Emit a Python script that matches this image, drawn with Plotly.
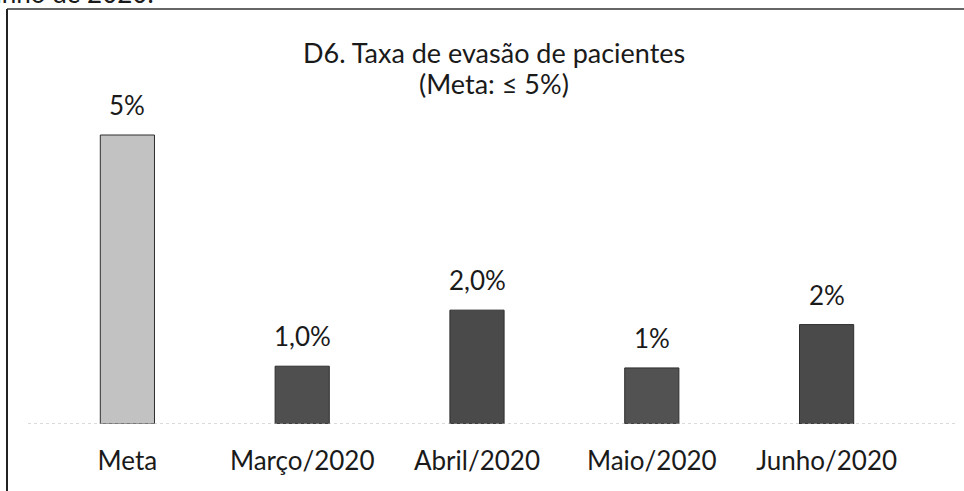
import plotly.graph_objects as go

categories = ["Meta", "Março/2020", "Abril/2020", "Maio/2020", "Junho/2020"]
values = [5.0, 1.0, 1.97, 0.97, 1.72]
labels = ["5%", "1,0%", "2,0%", "1%", "2%"]
colors = ["#c2c2c2", "#4f4f4f", "#4a4a4a", "#525252", "#4a4a4a"]
title_lines = ["D6. Taxa de evasão de pacientes", "(Meta: ≤ 5%)"]
header_text = "junho de 2020."

W, H = 964, 491
ML, MR, MT, MB = 40, 50, 60, 67
PW, PH = W - ML - MR, H - MT - MB

def px_x(p):
    return (p - ML) / PW

def px_y(p):
    return 1 - (p - MT) / PH

FONT = "Lato"
TXT = "#1a1a1a"

fig = go.Figure()
fig.add_trace(go.Bar(
    x=categories, y=values,
    marker=dict(color=colors, line=dict(color="#2e2e2e", width=1)),
    width=0.31, hoverinfo="skip",
))

for c, v, t in zip(categories, values, labels):
    fig.add_annotation(x=c, y=v, text=t, showarrow=False, yanchor="bottom",
                       yshift=12, font=dict(size=26, color=TXT, family=FONT))

# dotted baseline
fig.add_shape(type="line", xref="paper", yref="y", x0=px_x(28), x1=px_x(955), y0=0, y1=0,
              line=dict(color="#b4b4b4", width=1, dash="dot"))

# border (left and top)
fig.add_shape(type="line", xref="paper", yref="paper", x0=px_x(7), x1=px_x(7),
              y0=px_y(495), y1=px_y(9), line=dict(color="#222222", width=2))
fig.add_shape(type="line", xref="paper", yref="paper", x0=px_x(7), x1=px_x(970),
              y0=px_y(9), y1=px_y(9), line=dict(color="#333333", width=1.5))

# title
fig.add_annotation(xref="paper", yref="paper", x=px_x(494), y=px_y(52), text=title_lines[0],
                   showarrow=False, xanchor="center", yanchor="middle",
                   font=dict(size=27, color=TXT, family=FONT))
fig.add_annotation(xref="paper", yref="paper", x=px_x(494), y=px_y(83), text=title_lines[1],
                   showarrow=False, xanchor="center", yanchor="middle",
                   font=dict(size=27, color=TXT, family=FONT))

# cropped header text from the scanned page
fig.add_annotation(xref="paper", yref="paper", x=px_x(156), y=px_y(11), text=header_text,
                   showarrow=False, xanchor="right", yanchor="bottom",
                   font=dict(size=26, color=TXT, family=FONT))

fig.update_layout(
    width=W, height=H,
    margin=dict(l=ML, r=MR, t=MT, b=MB),
    paper_bgcolor="white", plot_bgcolor="white",
    showlegend=False,
    xaxis=dict(showline=False, showgrid=False, ticks="", zeroline=False,
               ticklabelstandoff=19,
               tickfont=dict(size=26, color=TXT, family=FONT)),
    yaxis=dict(range=[0, PH / 57.8], visible=False, showgrid=False, zeroline=False),
)

fig.write_html("out.html", config={"displayModeBar": False},
               post_script="document.body.style.margin='0';document.body.style.overflow='hidden';")
